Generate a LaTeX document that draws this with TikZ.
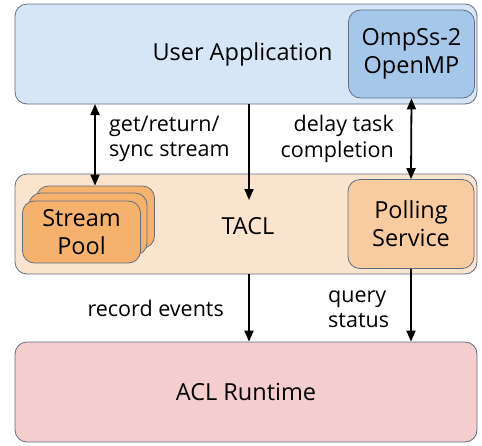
\documentclass[tikz,border=0pt]{standalone}
\usepackage{fontspec}
\setmainfont{Open Sans}
\usetikzlibrary{
  arrows.meta,
  positioning
}
\definecolor{AppBlue}{RGB}{214, 230, 246}
\definecolor{RtBlue}{RGB}{164, 199, 234}
\definecolor{TaclPeach}{RGB}{251, 228, 206}
\definecolor{PoolOrange}{RGB}{245, 178, 108}
\definecolor{PollPeach}{RGB}{248, 204, 160}
\definecolor{AclRose}{RGB}{244, 205, 206}
\definecolor{EdgeGray}{RGB}{96, 110, 130}
\tikzset{
    layer/.style={rectangle, draw=EdgeGray, rounded corners=12pt, line width=0.8pt, minimum width=462pt, minimum height=100pt, font=\fontsize{23.5}{28}\selectfont},
    inbox/.style={rectangle, draw=EdgeGray, rounded corners=12pt, line width=0.8pt, align=center, inner sep=0pt, font=\fontsize{23.5}{28}\selectfont},
    poolbox/.style={inbox, fill=PoolOrange, minimum width=118pt, minimum height=62pt},
    flow/.style={-{Triangle[length=11pt,width=9pt]}, line width=1.8pt},
    biflow/.style={{Triangle[length=11pt,width=9pt]}-{Triangle[length=11pt,width=9pt]}, line width=1.8pt},
    lbl/.style={align=left, font=\fontsize{21.5}{25.5}\selectfont, inner sep=0pt}
}

\begin{document}
\begin{tikzpicture}[x=1pt, y=-1pt]
    \useasboundingbox (0,0) rectangle (482,445);
    % layers
    \node[layer, fill=AppBlue] (app) at (246,54) {};
    \node[layer, fill=TaclPeach] (tacl) at (246,224) {};
    \node[layer, fill=AclRose] (acl) at (246,392) {ACL Runtime};
    \node[font=\fontsize{23.5}{28}\selectfont] (apptxt) at (242.5,54) {User Application};
    \node[font=\fontsize{23.5}{28}\selectfont] (tacltxt) at (248,226) {TACL};
    % inner boxes
    \node[inbox, fill=RtBlue, minimum width=126pt, minimum height=88pt] (rt) at (411.5,54) {OmpSs-2\\OpenMP};
    \node[inbox, fill=PollPeach, minimum width=126pt, minimum height=89pt] (poll) at (411,224) {Polling\\Service};
    \node[poolbox] (pool3) at (95.5,217) {};
    \node[poolbox] (pool2) at (88,224) {};
    \node[poolbox] (pool1) at (81.5,232) {Stream\\Pool};
    % connectors
    \coordinate (mid) at (249,200);
    \draw[biflow] (95,104) -- (pool3.north -| 95,0);
    \draw[flow] (app.south -| mid) -- (mid);
    \draw[biflow] (rt.south) -- (poll.north);
    \draw[flow] (tacl.south -| mid) -- (acl.north -| mid);
    \draw[flow] (poll.south) -- (acl.north -| poll.south);
    % labels
    \node[lbl, anchor=west] (getlbl) at (109,139) {get/return/\\sync stream};
    \node[lbl, align=right, anchor=east] (delaylbl) at (394,139) {delay task\\completion};
    \node[lbl, anchor=east] (reclbl) at (224,308) {record events};
    \node[lbl, anchor=west] (querylbl) at (328,309) {query\\status};
\end{tikzpicture}
\end{document}
